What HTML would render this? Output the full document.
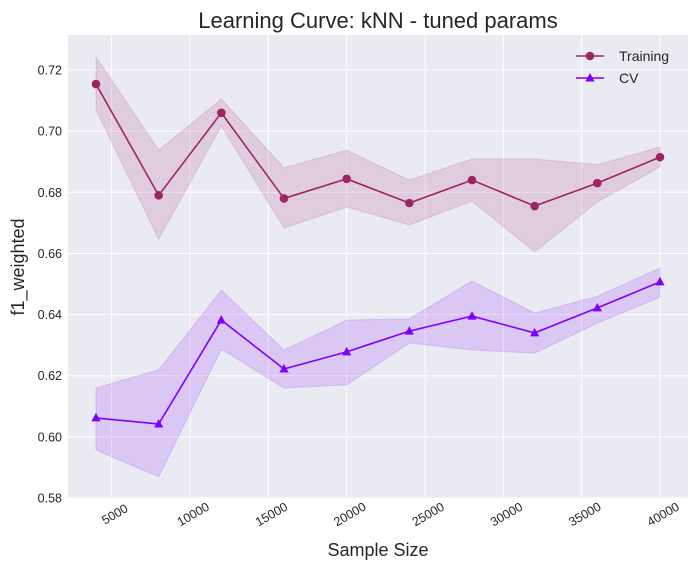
<!DOCTYPE html>
<html><head><meta charset="utf-8"><style>
body{margin:0;background:#fff;}
svg{display:block;font-family:"Liberation Sans",sans-serif;}
</style></head><body>
<svg id="chart" width="698" height="570"></svg>
<script>
const sizes=[4000,8000,12000,16000,20000,24000,28000,32000,36000,40000];
const trainMean=[0.7154,0.679,0.706,0.678,0.6844,0.6765,0.684,0.6755,0.683,0.6915];
const trainUp=[0.7243,0.6938,0.7105,0.688,0.6938,0.684,0.6909,0.6909,0.689,0.6948];
const trainLo=[0.707,0.6647,0.7017,0.6683,0.6752,0.6693,0.6771,0.6605,0.6768,0.6883];
const cvMean=[0.6062,0.6042,0.6382,0.6222,0.6278,0.6346,0.6395,0.634,0.6422,0.6507];
const cvUp=[0.616,0.6219,0.648,0.6284,0.6382,0.6386,0.651,0.6405,0.646,0.6552];
const cvLo=[0.5957,0.5869,0.6287,0.616,0.617,0.6307,0.6284,0.6274,0.6372,0.6457];
const xTicks=[5000,10000,15000,20000,25000,30000,35000,40000];
const yTicks=[0.58,0.60,0.62,0.64,0.66,0.68,0.70,0.72];

const NS="http://www.w3.org/2000/svg";
const svg=document.getElementById('chart');
const L=68,R=688,T=35,B=498;
const X=v=>96+(v-4000)*(564/36000);
const Y=v=>498-(v-0.58)*3057;
function mk(tag,attrs,parent){const e=document.createElementNS(NS,tag);for(const k in attrs)e.setAttribute(k,attrs[k]);(parent||svg).appendChild(e);return e;}

const bg=mk('rect',{x:L,y:T,width:R-L,height:B-T,fill:'#eaeaf2'});


xTicks.forEach(t=>{
  const g=mk('line',{x1:X(t),x2:X(t),y1:T,y2:B,stroke:'#fff','stroke-width':1});
  
  
  const cx=X(t)+3,cy=B+16;
  const tx=mk('text',{x:cx,y:cy+4.5,'font-size':12.5,fill:'#262626','text-anchor':'middle',transform:`rotate(-30 ${cx} ${cy})`});
  tx.textContent=t;
  
  
});
yTicks.forEach(t=>{
  const g=mk('line',{x1:L,x2:R,y1:Y(t),y2:Y(t),stroke:'#fff','stroke-width':1});
  
  
  const tx=mk('text',{x:L-6,y:Y(t)+4.5,'font-size':12.5,fill:'#262626','text-anchor':'end'});
  tx.textContent=t.toFixed(2);
  
  
});
function band(up,lo,color,name){
  let d='M'+sizes.map((s,i)=>X(s)+','+Y(up[i])).join('L');
  d+='L'+sizes.map((s,i)=>[X(s),Y(lo[i])]).reverse().map(p=>p.join(',')).join('L')+'Z';
  const p=mk('path',{d,fill:color,'fill-opacity':0.15,stroke:color,'stroke-opacity':0.15});
  
  
}
band(trainUp,trainLo,'#9e2462','training-band');
band(cvUp,cvLo,'#7f00ff','cv-band');
function series(vals,color,marker,name){
  const l=mk('polyline',{points:sizes.map((s,i)=>X(s)+','+Y(vals[i])).join(' '),fill:'none',stroke:color,'stroke-width':1.6});
  
  
  sizes.forEach((s,i)=>{
    const x=X(s),y=Y(vals[i]);let m;
    if(marker==='o')m=mk('circle',{cx:x,cy:y,r:4.3,fill:color});
    else m=mk('polygon',{points:`${x},${y-5} ${x-4.6},${y+3.5} ${x+4.6},${y+3.5}`,fill:color});
    
    
  });
}
series(trainMean,'#9e2462','o','training');
series(cvMean,'#7f00ff','^','cv');

const t=mk('text',{x:378,y:28,'font-size':22,fill:'#262626','text-anchor':'middle'});
t.textContent='Learning Curve: kNN - tuned params';


const xl=mk('text',{x:378,y:556,'font-size':18,fill:'#262626','text-anchor':'middle'});
xl.textContent='Sample Size';


const yl=mk('text',{x:24,y:267,'font-size':18,fill:'#262626','text-anchor':'middle',transform:'rotate(-90 24 267)'});
yl.textContent='f1_weighted';



[['Training','#9e2462','o',56],['CV','#7f00ff','^',78]].forEach(([lab,c,m,y])=>{
  const ln=mk('line',{x1:576,x2:604,y1:y,y2:y,stroke:c,'stroke-width':1.6});
  
  
  let mm;
  if(m==='o')mm=mk('circle',{cx:590,cy:y,r:4.3,fill:c});
  else mm=mk('polygon',{points:`590,${y-5} 585.4,${y+3.5} 594.6,${y+3.5}`,fill:c});
  
  
  const tx=mk('text',{x:619,y:y+5,'font-size':14,fill:'#262626'});
  tx.textContent=lab;
  
  
});
</script>
</body></html>
